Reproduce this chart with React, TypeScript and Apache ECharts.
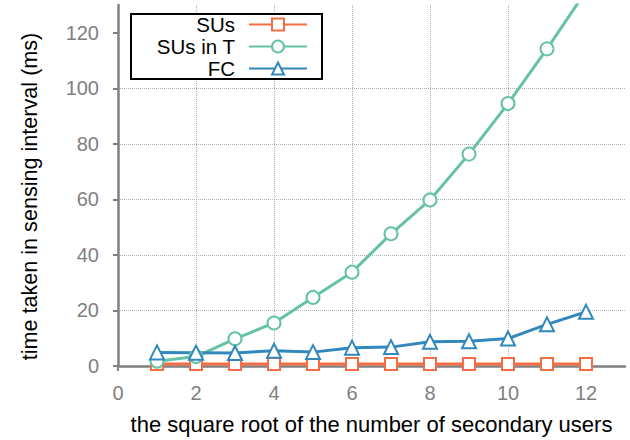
import React, { useEffect, useRef } from "react";
import * as echarts from "echarts";

const xValues = [1, 2, 3, 4, 5, 6, 7, 8, 9, 10, 11, 12];
const susValues = [0.7, 0.7, 0.7, 0.7, 0.7, 0.7, 0.7, 0.7, 0.7, 0.7, 0.7, 0.7];
const susInTValues = [1.7, 3.4, 9.8, 15.5, 24.7, 33.8, 47.6, 59.8, 76.3, 94.5, 114.2, 135];
const fcValues = [4.9, 4.8, 4.7, 5.5, 5.0, 6.6, 6.8, 8.7, 8.9, 9.9, 15.0, 19.5];
const xTicks = [0, 2, 4, 6, 8, 10, 12];
const yTicks = [0, 20, 40, 60, 80, 100, 120];
const seriesNames = ["SUs", "SUs in T", "FC"];

const FONT = "Liberation Sans";
const GRAY = "#808080";

export default function App() {
  const ref = useRef<HTMLDivElement>(null);
  useEffect(() => {
    if (!ref.current) return;
    const chart = echarts.init(ref.current, null, { renderer: "svg" });
    const pairs = (vals: number[]) => xValues.map((x, i) => [x, vals[i]]);
    const mk = (name: string, vals: number[], color: string, symbol: string, size: number) => ({
      name,
      type: "line",
      data: pairs(vals),
      clip: true,
      symbol,
      symbolSize: size,
      showAllSymbol: true,
      lineStyle: { color, width: 3 },
      itemStyle: { color, borderColor: color, borderWidth: 3 },
      emphasis: { disabled: true },
    });
    chart.setOption({
      animation: false,
      backgroundColor: "#fff",
      textStyle: { fontFamily: FONT },
      grid: { left: 118, right: 5, top: 5, bottom: 74, containLabel: false, outerBoundsMode: "none" },
      legend: {
        left: 131,
        top: 14,
        orient: "vertical",
        align: "right",
        data: seriesNames,
        itemWidth: 58,
        itemHeight: 15,
        itemGap: 1,
        padding: [0, 14, 0, 10],
        borderColor: "#000",
        borderWidth: 2,
        borderRadius: 0,
        backgroundColor: "#fff",
        formatter: "{a|{name}}",
        textStyle: {
          fontFamily: FONT,
          fontSize: 20.5,
          color: "#000",
          rich: {
            a: {
              fontFamily: FONT,
              fontSize: 20.5,
              color: "#000",
              lineHeight: 20,
              width: 94,
              align: "right",
              padding: [0, 9, 0, 0],
            },
          },
        },
      },
      xAxis: {
        type: "value",
        min: 0,
        max: 13,
        interval: 2,
        name: "the square root of the number of secondary users",
        nameLocation: "middle",
        nameGap: 47,
        nameTextStyle: { fontFamily: FONT, fontSize: 22, color: "#000" },
        axisLine: { show: true, onZero: false, lineStyle: { color: GRAY, width: 2.5 } },
        axisTick: { show: true, inside: false, length: 5, customValues: xTicks, lineStyle: { color: GRAY, width: 2 } },
        axisLabel: { customValues: xTicks, margin: 17, fontFamily: FONT, fontSize: 20, color: GRAY },
        splitLine: { show: true, showMinLine: false, showMaxLine: false, lineStyle: { color: "#b0b0b0", type: "dotted", width: 1 } },
      },
      yAxis: {
        type: "value",
        min: 0,
        max: 130,
        interval: 20,
        name: "time taken in sensing interval (ms)",
        nameLocation: "middle",
        nameGap: 78,
        nameTextStyle: { fontFamily: FONT, fontSize: 21.6, color: "#000", padding: [0, 22, 0, 0] },
        axisLine: { show: true, onZero: false, lineStyle: { color: GRAY, width: 2.5 } },
        axisTick: { show: true, inside: false, length: 5, customValues: yTicks, lineStyle: { color: GRAY, width: 2 } },
        axisLabel: { customValues: yTicks, margin: 19, fontFamily: FONT, fontSize: 20, color: GRAY },
        splitLine: { show: true, showMinLine: false, showMaxLine: false, lineStyle: { color: "#b0b0b0", type: "dotted", width: 1 } },
      },
      series: [
        mk("SUs", susValues, "#f46d43", "emptyRect", 12),
        mk("SUs in T", susInTValues, "#66c2a5", "emptyCircle", 13),
        mk("FC", fcValues, "#3288bd", "emptyTriangle", 14),
      ],
    });
    return () => chart.dispose();
  }, []);
  return (
    <div
      ref={ref}
      style={{ position: "fixed", left: 0, top: 0, width: 630, height: 440 }}
    />
  );
}
